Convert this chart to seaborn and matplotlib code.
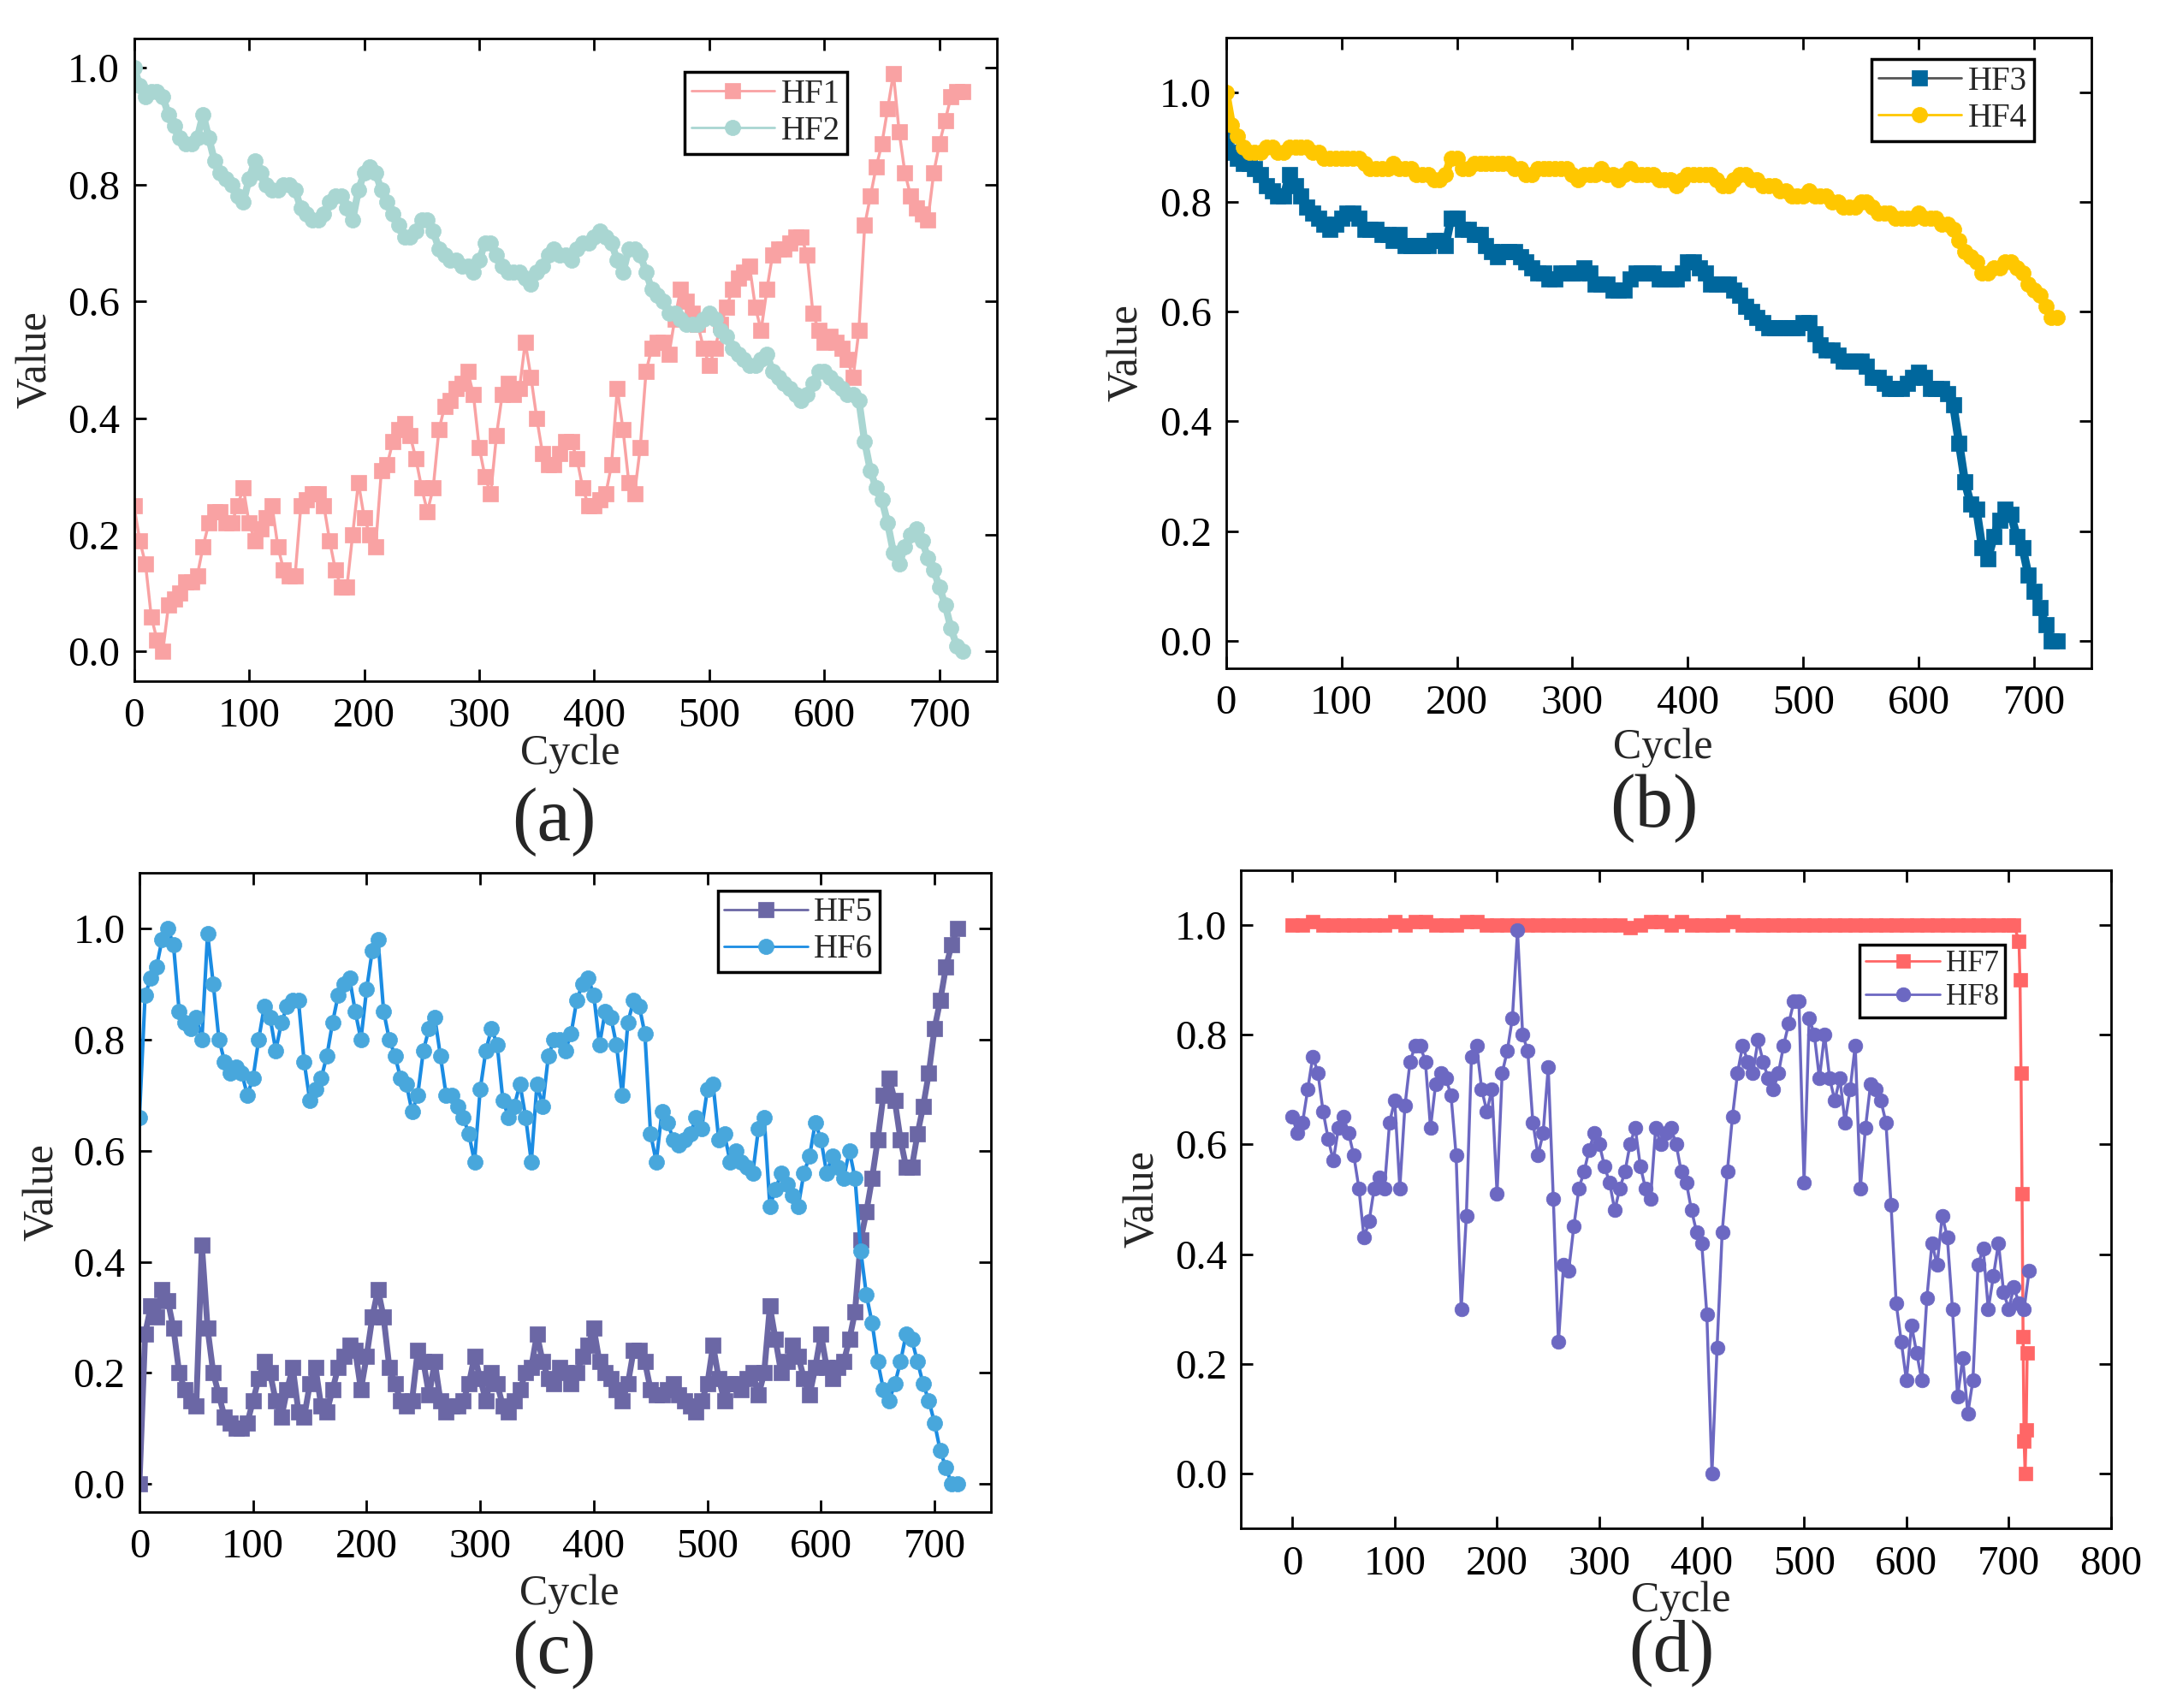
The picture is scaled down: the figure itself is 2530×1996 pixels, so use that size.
import numpy as np
import matplotlib
matplotlib.use("Agg")
import matplotlib.pyplot as plt
import seaborn as sns
from matplotlib.ticker import FormatStrFormatter

# sampled every 5 cycles
cycles = np.arange(0, 721, 5)

hf1 = [0.25, 0.19, 0.15, 0.06, 0.02, 0.00, 0.08, 0.09, 0.10, 0.12,
       0.12, 0.13, 0.18, 0.22, 0.24, 0.24, 0.22, 0.22, 0.25, 0.28,
       0.22, 0.19, 0.21, 0.23, 0.25, 0.18, 0.14, 0.13, 0.13, 0.25,
       0.26, 0.27, 0.27, 0.25, 0.19, 0.14, 0.11, 0.11, 0.20, 0.29,
       0.23, 0.20, 0.18, 0.31, 0.32, 0.36, 0.38, 0.39, 0.37, 0.33,
       0.28, 0.24, 0.28, 0.38, 0.42, 0.43, 0.45, 0.46, 0.48, 0.44,
       0.35, 0.30, 0.27, 0.37, 0.44, 0.46, 0.44, 0.45, 0.53, 0.47,
       0.40, 0.34, 0.32, 0.32, 0.34, 0.36, 0.36, 0.33, 0.28, 0.25,
       0.25, 0.26, 0.27, 0.32, 0.45, 0.38, 0.29, 0.27, 0.35, 0.48,
       0.52, 0.53, 0.53, 0.51, 0.57, 0.62, 0.60, 0.58, 0.56, 0.52,
       0.49, 0.52, 0.56, 0.59, 0.62, 0.64, 0.65, 0.66, 0.59, 0.55,
       0.62, 0.68, 0.69, 0.69, 0.70, 0.71, 0.71, 0.68, 0.58, 0.55,
       0.53, 0.54, 0.53, 0.52, 0.50, 0.47, 0.55, 0.73, 0.78, 0.83,
       0.87, 0.93, 0.99, 0.89, 0.82, 0.78, 0.76, 0.75, 0.74, 0.82,
       0.87, 0.91, 0.95, 0.96, 0.96]

hf2 = [1.00, 0.97, 0.95, 0.96, 0.96, 0.95, 0.92, 0.90, 0.88, 0.87,
       0.87, 0.88, 0.92, 0.88, 0.84, 0.82, 0.81, 0.80, 0.78, 0.77,
       0.81, 0.84, 0.82, 0.80, 0.79, 0.79, 0.80, 0.80, 0.79, 0.76,
       0.75, 0.74, 0.74, 0.75, 0.77, 0.78, 0.78, 0.76, 0.74, 0.79,
       0.82, 0.83, 0.82, 0.79, 0.77, 0.75, 0.73, 0.71, 0.71, 0.72,
       0.74, 0.74, 0.72, 0.69, 0.68, 0.67, 0.67, 0.66, 0.66, 0.65,
       0.67, 0.70, 0.70, 0.68, 0.66, 0.65, 0.65, 0.65, 0.64, 0.63,
       0.65, 0.66, 0.68, 0.69, 0.68, 0.68, 0.67, 0.69, 0.70, 0.70,
       0.71, 0.72, 0.71, 0.70, 0.67, 0.65, 0.69, 0.69, 0.68, 0.65,
       0.62, 0.61, 0.60, 0.58, 0.58, 0.57, 0.56, 0.56, 0.56, 0.57,
       0.58, 0.57, 0.55, 0.54, 0.52, 0.51, 0.50, 0.49, 0.49, 0.50,
       0.51, 0.48, 0.47, 0.46, 0.45, 0.44, 0.43, 0.44, 0.46, 0.48,
       0.48, 0.47, 0.46, 0.45, 0.44, 0.44, 0.43, 0.36, 0.31, 0.28,
       0.26, 0.22, 0.17, 0.15, 0.18, 0.20, 0.21, 0.19, 0.16, 0.14,
       0.11, 0.08, 0.04, 0.01, 0.00]

hf3 = [0.92, 0.89, 0.88, 0.87, 0.87, 0.86, 0.85, 0.83, 0.82, 0.81,
       0.81, 0.85, 0.83, 0.81, 0.79, 0.78, 0.77, 0.76, 0.75, 0.76,
       0.77, 0.78, 0.78, 0.77, 0.75, 0.75, 0.75, 0.74, 0.74, 0.73,
       0.74, 0.72, 0.72, 0.72, 0.72, 0.72, 0.73, 0.73, 0.72, 0.77,
       0.77, 0.75, 0.75, 0.74, 0.74, 0.72, 0.71, 0.70, 0.71, 0.71,
       0.71, 0.70, 0.69, 0.68, 0.67, 0.67, 0.66, 0.66, 0.67, 0.67,
       0.67, 0.67, 0.68, 0.67, 0.65, 0.65, 0.65, 0.64, 0.64, 0.64,
       0.66, 0.67, 0.67, 0.67, 0.67, 0.66, 0.66, 0.66, 0.66, 0.67,
       0.69, 0.69, 0.68, 0.67, 0.65, 0.65, 0.65, 0.65, 0.64, 0.63,
       0.61, 0.60, 0.59, 0.58, 0.57, 0.57, 0.57, 0.57, 0.57, 0.57,
       0.58, 0.58, 0.56, 0.54, 0.53, 0.53, 0.52, 0.51, 0.51, 0.51,
       0.51, 0.50, 0.48, 0.48, 0.47, 0.46, 0.46, 0.46, 0.47, 0.48,
       0.49, 0.48, 0.46, 0.46, 0.46, 0.45, 0.43, 0.36, 0.29, 0.25,
       0.24, 0.17, 0.15, 0.19, 0.22, 0.24, 0.23, 0.19, 0.17, 0.12,
       0.09, 0.06, 0.03, 0.00, 0.00]

hf4 = [1.00, 0.94, 0.92, 0.90, 0.89, 0.89, 0.89, 0.90, 0.90, 0.89,
       0.89, 0.90, 0.90, 0.90, 0.90, 0.89, 0.89, 0.88, 0.88, 0.88,
       0.88, 0.88, 0.88, 0.88, 0.87, 0.86, 0.86, 0.86, 0.86, 0.87,
       0.86, 0.86, 0.86, 0.85, 0.85, 0.85, 0.84, 0.84, 0.85, 0.88,
       0.88, 0.86, 0.86, 0.87, 0.87, 0.87, 0.87, 0.87, 0.87, 0.87,
       0.86, 0.86, 0.85, 0.85, 0.86, 0.86, 0.86, 0.86, 0.86, 0.86,
       0.85, 0.84, 0.85, 0.85, 0.85, 0.86, 0.85, 0.85, 0.84, 0.85,
       0.86, 0.85, 0.85, 0.85, 0.85, 0.84, 0.84, 0.84, 0.83, 0.84,
       0.85, 0.85, 0.85, 0.85, 0.85, 0.84, 0.83, 0.83, 0.84, 0.85,
       0.85, 0.84, 0.84, 0.83, 0.83, 0.83, 0.82, 0.82, 0.81, 0.81,
       0.81, 0.82, 0.81, 0.81, 0.81, 0.80, 0.80, 0.79, 0.79, 0.79,
       0.80, 0.80, 0.79, 0.78, 0.78, 0.78, 0.77, 0.77, 0.77, 0.77,
       0.78, 0.77, 0.77, 0.77, 0.76, 0.76, 0.75, 0.73, 0.71, 0.70,
       0.69, 0.67, 0.67, 0.68, 0.68, 0.69, 0.69, 0.68, 0.67, 0.65,
       0.64, 0.63, 0.61, 0.59, 0.59]

hf5 = [0.00, 0.27, 0.32, 0.30, 0.35, 0.33, 0.28, 0.20, 0.17, 0.15,
       0.14, 0.43, 0.28, 0.20, 0.16, 0.12, 0.11, 0.10, 0.10, 0.11,
       0.15, 0.19, 0.22, 0.20, 0.15, 0.12, 0.17, 0.21, 0.13, 0.12,
       0.18, 0.21, 0.14, 0.13, 0.17, 0.21, 0.23, 0.25, 0.24, 0.17,
       0.23, 0.30, 0.35, 0.30, 0.21, 0.18, 0.15, 0.14, 0.15, 0.24,
       0.22, 0.16, 0.22, 0.15, 0.13, 0.14, 0.14, 0.15, 0.18, 0.23,
       0.19, 0.15, 0.20, 0.18, 0.14, 0.13, 0.15, 0.17, 0.20, 0.21,
       0.27, 0.22, 0.19, 0.18, 0.21, 0.20, 0.18, 0.20, 0.23, 0.25,
       0.28, 0.22, 0.20, 0.19, 0.17, 0.15, 0.18, 0.24, 0.24, 0.22,
       0.17, 0.16, 0.16, 0.17, 0.18, 0.16, 0.15, 0.14, 0.13, 0.15,
       0.18, 0.25, 0.19, 0.15, 0.18, 0.18, 0.17, 0.19, 0.20, 0.16,
       0.20, 0.32, 0.26, 0.20, 0.22, 0.25, 0.23, 0.19, 0.16, 0.21,
       0.27, 0.21, 0.19, 0.21, 0.22, 0.26, 0.31, 0.44, 0.49, 0.55,
       0.62, 0.70, 0.73, 0.69, 0.62, 0.57, 0.57, 0.63, 0.68, 0.74,
       0.82, 0.87, 0.93, 0.97, 1.00]

hf6 = [0.66, 0.88, 0.91, 0.93, 0.98, 1.00, 0.97, 0.85, 0.83, 0.82,
       0.84, 0.80, 0.99, 0.90, 0.80, 0.76, 0.74, 0.75, 0.74, 0.70,
       0.73, 0.80, 0.86, 0.84, 0.78, 0.83, 0.86, 0.87, 0.87, 0.76,
       0.69, 0.71, 0.73, 0.77, 0.83, 0.88, 0.90, 0.91, 0.85, 0.80,
       0.89, 0.96, 0.98, 0.85, 0.80, 0.77, 0.73, 0.72, 0.67, 0.70,
       0.78, 0.82, 0.84, 0.77, 0.70, 0.70, 0.68, 0.66, 0.63, 0.58,
       0.71, 0.78, 0.82, 0.79, 0.69, 0.66, 0.68, 0.72, 0.66, 0.58,
       0.72, 0.68, 0.77, 0.80, 0.80, 0.78, 0.81, 0.87, 0.90, 0.91,
       0.88, 0.79, 0.85, 0.84, 0.79, 0.70, 0.83, 0.87, 0.86, 0.81,
       0.63, 0.58, 0.67, 0.65, 0.62, 0.61, 0.62, 0.63, 0.66, 0.64,
       0.71, 0.72, 0.62, 0.63, 0.58, 0.60, 0.58, 0.57, 0.56, 0.64,
       0.66, 0.50, 0.53, 0.56, 0.54, 0.52, 0.50, 0.56, 0.59, 0.65,
       0.62, 0.56, 0.59, 0.57, 0.55, 0.60, 0.55, 0.42, 0.34, 0.29,
       0.22, 0.17, 0.15, 0.18, 0.22, 0.27, 0.26, 0.22, 0.18, 0.15,
       0.11, 0.06, 0.03, 0.00, 0.00]

hf8 = [0.65, 0.62, 0.64, 0.70, 0.76, 0.73, 0.66, 0.61, 0.57, 0.63,
       0.65, 0.62, 0.58, 0.52, 0.43, 0.46, 0.52, 0.54, 0.52, 0.64,
       0.68, 0.52, 0.67, 0.75, 0.78, 0.78, 0.75, 0.63, 0.71, 0.73,
       0.72, 0.69, 0.58, 0.30, 0.47, 0.76, 0.78, 0.70, 0.66, 0.70,
       0.51, 0.73, 0.77, 0.83, 0.99, 0.80, 0.77, 0.64, 0.58, 0.62,
       0.74, 0.50, 0.24, 0.38, 0.37, 0.45, 0.52, 0.55, 0.59, 0.62,
       0.60, 0.56, 0.53, 0.48, 0.52, 0.55, 0.60, 0.63, 0.56, 0.52,
       0.50, 0.63, 0.60, 0.62, 0.63, 0.60, 0.55, 0.53, 0.48, 0.44,
       0.42, 0.29, 0.00, 0.23, 0.44, 0.55, 0.65, 0.73, 0.78, 0.75,
       0.73, 0.79, 0.75, 0.72, 0.70, 0.73, 0.78, 0.82, 0.86, 0.86,
       0.53, 0.83, 0.80, 0.72, 0.80, 0.72, 0.68, 0.72, 0.64, 0.70,
       0.78, 0.52, 0.63, 0.71, 0.70, 0.68, 0.64, 0.49, 0.31, 0.24,
       0.17, 0.27, 0.22, 0.17, 0.32, 0.42, 0.38, 0.47, 0.43, 0.30,
       0.14, 0.21, 0.11, 0.17, 0.38, 0.41, 0.30, 0.36, 0.42, 0.33,
       0.30, 0.34, 0.31, 0.30, 0.37]

# HF7 stays at 1 and collapses at the very end
cycles_hf7 = np.concatenate([np.arange(0, 701, 10),
                             [705, 710, 711, 712, 713, 714, 715, 716, 717, 718]])
hf7 = [1.00, 1.00, 1.005, 1.00, 1.00, 1.00, 1.00, 1.00, 1.00, 1.00,
       1.005, 1.00, 1.005, 1.005, 1.00, 1.00, 1.00, 1.005, 1.005, 1.00,
       1.00, 1.00, 1.00, 1.00, 1.00, 1.00, 1.00, 1.00, 1.00, 1.00,
       1.00, 1.00, 1.00, 0.995, 1.00, 1.005, 1.005, 1.00, 1.005, 1.00,
       1.00, 1.00, 1.00, 1.005, 1.00, 1.00, 1.00, 1.00, 1.00, 1.00,
       1.00, 1.00, 1.00, 1.00, 1.00, 1.00, 1.00, 1.00, 1.00, 1.00,
       1.00, 1.00, 1.00, 1.00, 1.00, 1.00, 1.00, 1.00, 1.00, 1.00,
       1.00,
       1.00, 0.97, 0.90, 0.73, 0.51, 0.25, 0.06, 0.00, 0.08, 0.22]

sns.set_style("ticks")
plt.rcParams["font.family"] = ["Liberation Serif", "DejaVu Serif"]

fig = plt.figure(figsize=(25.3, 19.96), dpi=100)


def draw(ax, x, y, label, color, marker, line_color=None, ms=13, lw=2):
    n_before = len(ax.lines)
    sns.lineplot(x=x, y=y, ax=ax, color=line_color or color, marker=marker,
                 markerfacecolor=color, markeredgecolor=color,
                 linewidth=lw, label=label, estimator=None, sort=False)
    for line in ax.lines[n_before:]:
        line.set_markersize(ms)
        line.set_markeredgewidth(0.5)
        line.set_solid_joinstyle("round")


def style(ax, xlim, ylim, xticks, leg_anchor, ylab_x, xlab_y, leg_size=28):
    ax.set_xlim(*xlim)
    ax.set_ylim(*ylim)
    ax.set_xticks(xticks)
    ax.set_yticks([0.0, 0.2, 0.4, 0.6, 0.8, 1.0])
    ax.yaxis.set_major_formatter(FormatStrFormatter("%.1f"))
    ax.tick_params(direction="in", length=10, width=2, top=True, right=True,
                   labelsize=35, colors="black")
    ax.tick_params(axis="x", pad=14)
    ax.tick_params(axis="y", pad=12)
    for sp in ax.spines.values():
        sp.set_linewidth(2)
        sp.set_color("black")
    ax.set_xlabel("Cycle", fontsize=36)
    ax.set_ylabel("Value", fontsize=36)
    ax.yaxis.set_label_coords(ylab_x, 0.5)
    ax.xaxis.set_label_coords(0.505, xlab_y)
    leg = ax.legend(loc="upper right", bbox_to_anchor=leg_anchor, frameon=True,
                    fancybox=False, edgecolor="black", framealpha=1,
                    fontsize=leg_size, handlelength=2.5, handletextpad=0.2,
                    borderpad=0.2, labelspacing=0.15, borderaxespad=0)
    leg.get_frame().set_linewidth(2.5)
    for h in leg.legend_handles:
        h.set_linewidth(2)


# (a)
ax = fig.add_axes([0.0619, 0.6014, 0.3986, 0.3760])
draw(ax, cycles, hf1, "HF1", "#F9A2A3", "s", lw=2.5)
draw(ax, cycles, hf2, "HF2", "#A9D6D2", "o", lw=6)
style(ax, (0, 750), (-0.05, 1.05), range(0, 701, 100), (0.826, 0.948), -0.091, -0.082)

# (b)
ax = fig.add_axes([0.5663, 0.6087, 0.3999, 0.3695])
draw(ax, cycles, hf3, "HF3", "#00679D", "s", line_color="#555555", lw=2)
ax.lines[-1].set_color("#00679D")
ax.lines[-1].set_linewidth(7)
draw(ax, cycles, hf4, "HF4", "#FFC700", "o", lw=7)
style(ax, (0, 750), (-0.05, 1.1), range(0, 701, 100), (0.933, 0.965), -0.092, -0.094)
# legend line of HF3 is dark grey in the original
ax.get_legend().legend_handles[0].set_color("#555555")
ax.get_legend().legend_handles[0].set_markerfacecolor("#00679D")
ax.get_legend().legend_handles[0].set_markeredgecolor("#00679D")

# (c)
ax = fig.add_axes([0.0644, 0.1148, 0.3935, 0.3743])
draw(ax, cycles, hf5, "HF5", "#6B67A5", "s", lw=5)
draw(ax, cycles, hf6, "HF6", "#48A7DC", "o", line_color="#1B8CE3", lw=3)
style(ax, (0, 750), (-0.05, 1.1), range(0, 701, 100), (0.869, 0.972), -0.091, -0.097)

# (d)
ax = fig.add_axes([0.5733, 0.1051, 0.4018, 0.3856])
draw(ax, cycles_hf7, hf7, "HF7", "#FF6666", "s", ms=12, lw=2.5)
draw(ax, cycles, hf8, "HF8", "#6C68C2", "o", ms=12, lw=2.5)
style(ax, (-50, 800), (-0.1, 1.1), range(0, 801, 100), (0.878, 0.887), -0.090, -0.080,
      leg_size=25)

fig.text(0.256, 0.519, "(a)", ha="center", va="center", fontsize=64)
fig.text(0.764, 0.527, "(b)", ha="center", va="center", fontsize=64)
fig.text(0.256, 0.0315, "(c)", ha="center", va="center", fontsize=64)
fig.text(0.772, 0.0320, "(d)", ha="center", va="center", fontsize=62)

fig.savefig("out.png", dpi=100, facecolor="white")
